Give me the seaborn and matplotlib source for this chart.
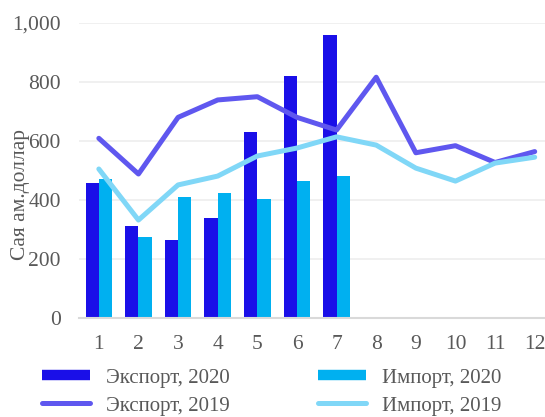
import numpy as np
import pandas as pd
import matplotlib
matplotlib.use("Agg")
import matplotlib.pyplot as plt
import seaborn as sns
from matplotlib.lines import Line2D

months = list(range(1, 13))
export_2020 = [458, 312, 265, 338, 632, 820, 959]
import_2020 = [471, 275, 411, 425, 405, 466, 481]
export_2019 = [609, 488, 680, 739, 750, 680, 637, 816, 560, 584, 527, 564]
import_2019 = [505, 332, 451, 481, 549, 576, 614, 586, 508, 464, 525, 545]

lbl_e20 = "Экспорт, 2020"
lbl_i20 = "Импорт, 2020"
lbl_e19 = "Экспорт, 2019"
lbl_i19 = "Импорт, 2019"
ylabel = "Сая ам.доллар"

c_e20 = "#1A0FE8"
c_i20 = "#00B0F0"
c_e19 = "#5F57EF"
c_i19 = "#80D7F7"
txt = "#595959"

sns.set_theme(style="white")
plt.rcParams["font.family"] = ["Liberation Serif", "DejaVu Serif"]

bars = pd.DataFrame({
    "month": months[:len(export_2020)] * 2,
    "value": export_2020 + import_2020,
    "kind": [lbl_e20] * len(export_2020) + [lbl_i20] * len(import_2020),
})
lines = pd.DataFrame({
    "month": months * 2,
    "value": export_2019 + import_2019,
    "kind": [lbl_e19] * 12 + [lbl_i19] * 12,
})

fig = plt.figure(figsize=(5.45, 4.17), dpi=100)
ax = fig.add_axes([0.145, 0.2374, 0.855, 0.7076])

sns.barplot(data=bars, x="month", y="value", hue="kind", native_scale=True,
            palette=[c_e20, c_i20], width=0.67, gap=0, dodge=True,
            saturation=1, errorbar=None, ax=ax, legend=False, linewidth=0)
sns.lineplot(data=lines, x="month", y="value", hue="kind",
             palette=[c_e19, c_i19], linewidth=3.6, ax=ax, legend=False,
             solid_capstyle="round", solid_joinstyle="round")

ax.set_xlim(0.5, 12.26)
ax.set_ylim(0, 1000)
ax.set_xticks(months)
ax.set_xticklabels([str(m) for m in months])
ax.set_yticks([0, 200, 400, 600, 800, 1000])
ax.set_yticklabels(["0", "200", "400", "600", "800", "1,000"])
ax.tick_params(axis="both", length=0, labelsize=15.5, colors=txt)
ax.tick_params(axis="x", pad=12)
ax.tick_params(axis="y", pad=13)
ax.yaxis.grid(True, color="#EFEFEF", linewidth=1.3)
ax.set_axisbelow(True)
for s in ["top", "right", "left"]:
    ax.spines[s].set_visible(False)
ax.spines["bottom"].set_color("#D9D9D9")
ax.spines["bottom"].set_linewidth(1.5)
ax.set_xlabel("")
ax.set_ylabel(ylabel, fontsize=15.5, color=txt)
ax.yaxis.set_label_coords(-0.105, 0.42)

handles = [
    Line2D([0], [0], color=c_e20, linewidth=7.5, solid_capstyle="butt"),
    Line2D([0], [0], color=c_e19, linewidth=3.6, solid_capstyle="round"),
    Line2D([0], [0], color=c_i20, linewidth=7.5, solid_capstyle="butt"),
    Line2D([0], [0], color=c_i19, linewidth=3.6, solid_capstyle="round"),
]
labels = [lbl_e20, lbl_e19, lbl_i20, lbl_i19]
leg = fig.legend(handles, labels, ncol=2, loc="upper left",
                 bbox_to_anchor=(0.05, 0.152), frameon=False,
                 fontsize=15, handlelength=2.3, columnspacing=4.2,
                 labelspacing=0.4, handletextpad=0.8, borderpad=0.2)
for t in leg.get_texts():
    t.set_color(txt)

fig.savefig("out.png", dpi=100)
